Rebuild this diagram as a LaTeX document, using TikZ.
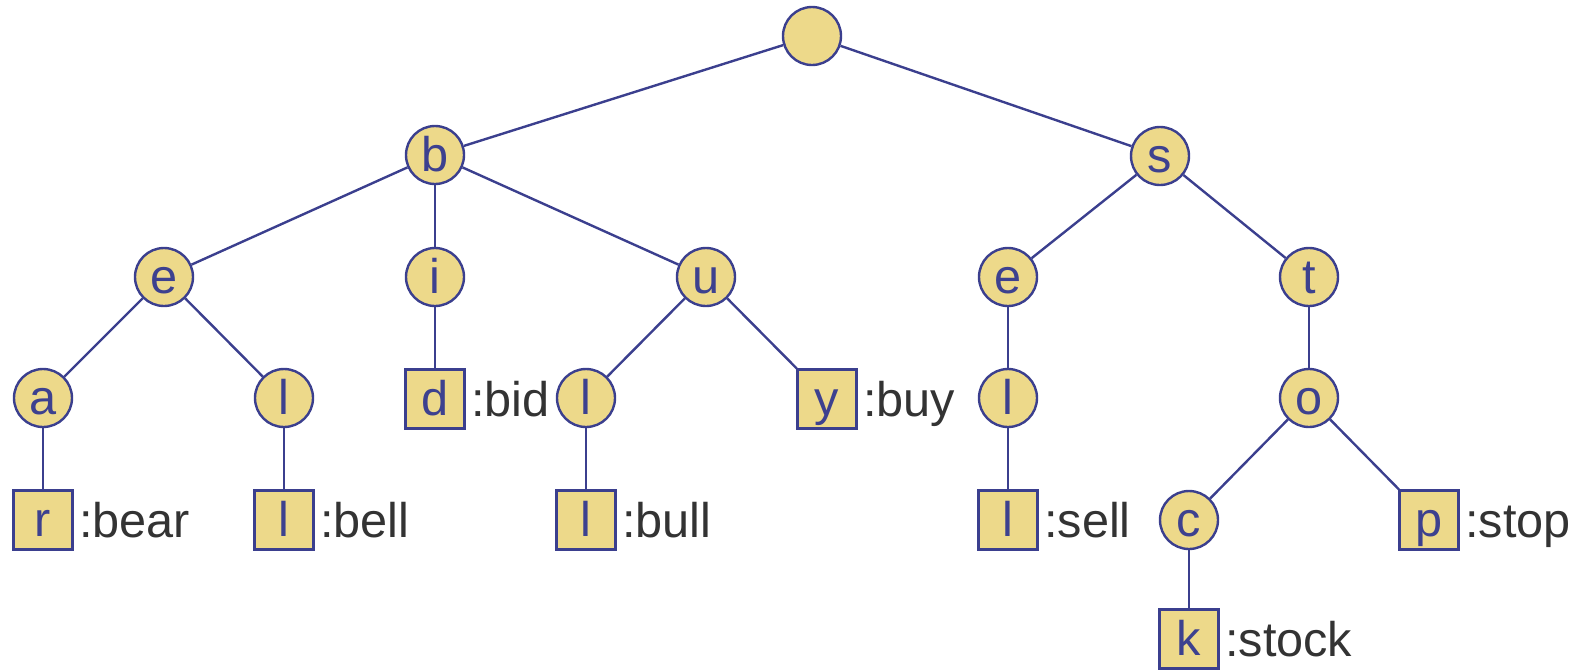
\documentclass[tikz,border=0pt]{standalone}
\usepackage{fontspec}
\setmainfont{Liberation Sans}
\definecolor{nodefill}{HTML}{EDD98A}
\definecolor{edgeblue}{HTML}{3B3F8E}
\definecolor{letterblue}{HTML}{3D418F}
\definecolor{labelgray}{HTML}{333333}
\begin{document}
\begin{tikzpicture}[x=0.75pt,y=-0.75pt,
  every node/.style={font=\fontsize{36.5}{42}\selectfont},
  trie/.style={draw=edgeblue, line width=1.8pt, fill=nodefill, text=letterblue,
               inner sep=0pt, text height=30pt, text depth=6pt},
  inner/.style={trie, circle, minimum size=43.5pt},
  leaf/.style={trie, rectangle, minimum size=44pt},
  word/.style={anchor=base west, text=labelgray, inner sep=0pt},
  edge/.style={draw=edgeblue, line width=1.8pt}]

\useasboundingbox (0,0) rectangle (1575,669);

% internal nodes
\node[inner] (root) at (812,36) {};
\node[inner] (b)  at (435,155) {b};
\node[inner] (s)  at (1160,156) {s};
\node[inner] (be) at (164,277) {e};
\node[inner] (bi) at (435,277) {i};
\node[inner] (bu) at (706,277) {u};
\node[inner] (se) at (1008,277) {e};
\node[inner] (st) at (1309,277) {t};
\node[inner] (bea) at (43,398) {a};
\node[inner] (bel) at (284,398) {l};
\node[inner] (bul) at (586,398) {l};
\node[inner] (sel) at (1008,398) {l};
\node[inner] (sto) at (1309,398) {o};
\node[inner] (stc) at (1189,520) {c};

% leaves (complete words)
\node[leaf] (bid)  at (435,399) {d};
\node[leaf] (buy)  at (827,399) {y};
\node[leaf] (bear) at (43,520) {r};
\node[leaf] (bell) at (284,520) {l};
\node[leaf] (bull) at (586,520) {l};
\node[leaf] (sell) at (1008,520) {l};
\node[leaf] (stop) at (1429,520) {p};
\node[leaf] (stock) at (1189,639) {k};

% word labels
\foreach \n in {bid,buy,bear,bell,bull,sell,stop,stock}
  \node[word] (lbl-\n) at ([xshift=4pt,yshift=-13pt]\n.east) {:\n};

% edges
\foreach \a/\b in {root/b, root/s, b/be, b/bi, b/bu, s/se, s/st,
                   be/bea, be/bel, bi/bid, bu/bul, bu/buy, se/sel, st/sto,
                   bea/bear, bel/bell, bul/bull, sel/sell, sto/stc, sto/stop,
                   stc/stock}
  \draw[edge] (\a) -- (\b);
\end{tikzpicture}
\end{document}
